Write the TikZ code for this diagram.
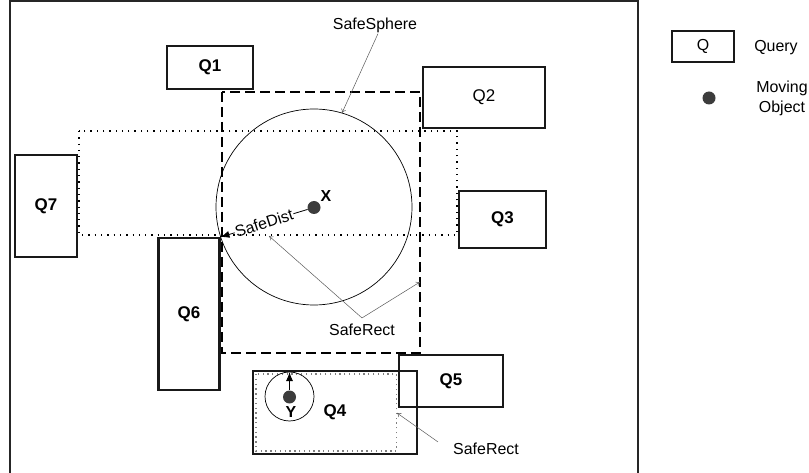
\documentclass[tikz,border=0pt]{standalone}
\usepackage{fontspec}
\setmainfont{Liberation Sans}
\usetikzlibrary{arrows.meta}
\definecolor{dotgray}{RGB}{60,60,60}

\begin{document}
\begin{tikzpicture}[x=1bp, y=-1bp,
    qbox/.style={draw=black!90, line width=2.4bp, inner sep=0pt, font=\fontsize{17}{19}\selectfont\bfseries},
    mobj/.style={circle, fill=dotgray, inner sep=0pt, minimum size=13bp},
    note/.style={draw=black!65, line width=0.5bp, -{To[length=4bp,width=5bp]}},
    lbl/.style={font=\fontsize{16}{20}\selectfont, inner sep=1bp}]
    \useasboundingbox (0,0) rectangle (809,473);
    \draw[line width=1.3bp, black!85] (10,474) -- (10,1) -- (638,1) -- (638,474);

    \draw[line width=1.3bp, dash pattern=on 10bp off 5bp] (222,92) rectangle (420,353);
    \draw[line width=1.1bp, dash pattern=on 1.3bp off 5bp] (79,131) rectangle (457,235);
    \draw[line width=0.7bp] (314,207) circle (98);

    \node[qbox, minimum width=86bp, minimum height=43bp] (q1) at (210,67.5) {Q1};
    \node[qbox, font=\fontsize{17}{19}\selectfont, minimum width=122bp, minimum height=61bp] (q2) at (484,97.5) {Q2};
    \node[qbox, minimum width=87bp, minimum height=57bp] (q3) at (502.5,219.5) {Q3};
    \node[qbox, minimum width=164bp, minimum height=83bp] (q4) at (335,412.5) {Q4};
    \node[qbox, minimum width=104bp, minimum height=52bp] (q5) at (451,381) {Q5};
    \node[qbox, minimum width=61bp, minimum height=152bp] (q6) at (189,314) {Q6};
    \node[qbox, minimum width=62bp, minimum height=102bp] (q7) at (46,206) {Q7};

    \draw[black!50, line width=1.1bp, dash pattern=on 1.3bp off 3.5bp] (256,374) rectangle (396.5,451);
    \draw[line width=0.7bp] (289.5,396.5) circle (24.5);

    \node[mobj] (x) at (314,207.5) {};
    \node[font=\fontsize{16}{18}\selectfont\bfseries] (xl) at (326,196) {X};
    \node[mobj] (y) at (289.5,397) {};
    \node[font=\fontsize{16}{18}\selectfont\bfseries] (yl) at (291,412) {Y};
    \coordinate (ytop) at (289.5,372);
    \draw[line width=1bp, -{Latex[length=9bp,width=7bp]}] (y) -- (ytop);

    \coordinate (sdtip) at (220.5,237);
    \path (x) -- node[lbl, rotate=18, inner sep=0.5bp] (sd) {SafeDist} (sdtip);
    \draw[line width=0.8bp] (x) -- (sd.east);
    \draw[line width=0.8bp, -{Latex[length=9bp,width=7bp]}] (sd.west) -- (sdtip);

    \node[lbl] (ss) at (375,25) {SafeSphere};
    \coordinate (sstip) at (342,113);
    \draw[note] ([xshift=3bp]ss.south) -- (sstip);

    \node[lbl] (sr) at (362,330) {SafeRect};
    \coordinate (srdot) at (269,236);
    \coordinate (srdash) at (420,282);
    \draw[note] ([yshift=5bp]sr.north) -- (srdot);
    \draw[note] ([yshift=5bp]sr.north) -- (srdash);

    \node[lbl] (sr2) at (486,449) {SafeRect};
    \coordinate (sr2dot) at (397,413);
    \draw[note] ([xshift=-14bp]sr2.north west) -- (sr2dot);

    \node[qbox, font=\fontsize{16}{18}\selectfont, line width=1.8bp, minimum width=62bp, minimum height=31bp] (lq) at (703,46.5) {Q};
    \node[lbl] (lqt) at (776,48) {Query};
    \node[mobj] (lm) at (709,98) {};
    \node[lbl, align=center] (lmt) at (782,98) {Moving\\Object};
\end{tikzpicture}
\end{document}
